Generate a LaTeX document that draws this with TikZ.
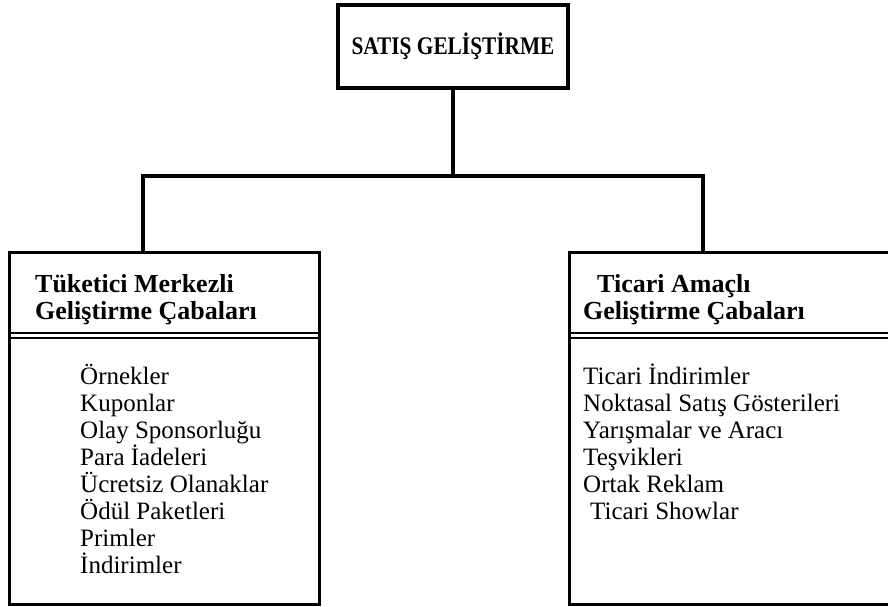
\documentclass[tikz,border=0pt]{standalone}
\usepackage{fontspec}
\setmainfont{Liberation Serif}
\begin{document}
\begin{tikzpicture}[x=1pt,y=-1pt,
  box/.style={draw, line width=3.2pt, inner sep=0pt},
  conn/.style={line width=3.2pt},
  item/.style={anchor=base west, inner sep=0pt, font=\fontsize{25}{27.5}\selectfont},
  head/.style={anchor=base west, inner sep=0pt, font=\fontsize{26}{28}\selectfont\bfseries},
  thinrule/.style={line width=1.4pt},
  thickrule/.style={line width=2.8pt}]
\useasboundingbox (0,0) rectangle (888,606);
\clip (0,0) rectangle (888,606);
% top box
\node[box, minimum width=230pt, minimum height=83pt,
      font=\fontsize{22}{26}\selectfont\bfseries] (top) at (453,46.5)
      {\scalebox{0.97}[1.15]{SATIŞ GELİŞTİRME}};
% lower boxes
\node[box, anchor=north west, minimum width=310pt, minimum height=352pt] (L) at (8,251) {};
\node[box, anchor=north west, minimum width=340pt, minimum height=352pt] (R) at (568,251) {};
% connectors
\coordinate (bar) at (453,176);
\draw[conn] (top.south) -- (bar);
\draw[conn] (bar) -| ([xshift=135pt]L.north west);
\draw[conn] (bar) -| ([xshift=135pt]R.north west);
% double rules
\draw[thinrule] ([yshift=-82pt]L.north west) -- ([yshift=-82pt]L.north east);
\draw[thickrule] ([yshift=-87pt]L.north west) -- ([yshift=-87pt]L.north east);
\draw[thinrule] ([yshift=-82pt]R.north west) -- ([yshift=-82pt]R.north east);
\draw[thickrule] ([yshift=-87pt]R.north west) -- ([yshift=-87pt]R.north east);
% headers
\node[head] (lh1) at (35,292) {Tüketici Merkezli};
\node[head] (lh2) at (35,319) {Geliştirme Çabaları};
\node[head] (rh1) at (597,292) {Ticari Amaçlı};
\node[head] (rh2) at (583,319) {Geliştirme Çabaları};
% left items
\foreach \t [count=\i from 0] in {Örnekler, Kuponlar, Olay Sponsorluğu, Para İadeleri,
  Ücretsiz Olanaklar, Ödül Paketleri, Primler, İndirimler}
  \node[item] (li\i) at (80,{384+27*\i}) {\t};
% right items
\foreach \t [count=\i from 0] in {Ticari İndirimler, Noktasal Satış Gösterileri,
  Yarışmalar ve Aracı, Teşvikleri, Ortak Reklam}
  \node[item] (ri\i) at (583,{384+27*\i}) {\t};
\node[item] (ri5) at (590,519) {Ticari Showlar};
\end{tikzpicture}
\end{document}
